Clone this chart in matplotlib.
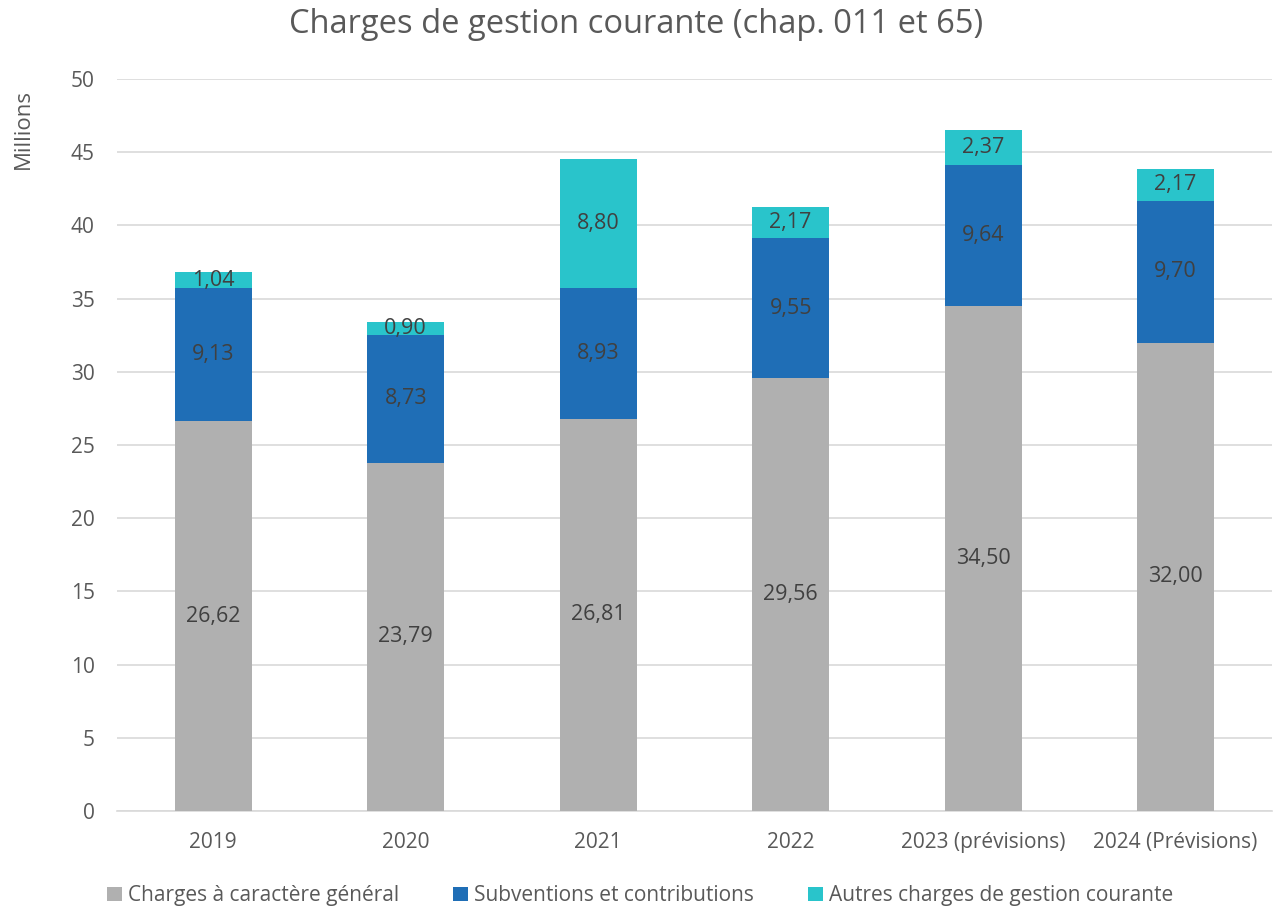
import numpy as np
import matplotlib.pyplot as plt

plt.rcParams['font.family'] = ['Open Sans', 'DejaVu Sans']

years = ['2019', '2020', '2021', '2022', '2023 (prévisions)', '2024 (Prévisions)']
charges_generales = [26.62, 23.79, 26.81, 29.56, 34.50, 32.00]
subventions = [9.13, 8.73, 8.93, 9.55, 9.64, 9.70]
autres = [1.04, 0.90, 8.80, 2.17, 2.37, 2.17]

series = [
    ('Charges à caractère général', charges_generales, '#B0B0B0'),
    ('Subventions et contributions', subventions, '#1F6EB6'),
    ('Autres charges de gestion courante', autres, '#29C4CB'),
]

txt = '#595959'

fig = plt.figure(figsize=(12.73, 9.07), dpi=100)
ax = fig.add_axes([0.0919, 0.1058, 0.9072, 0.8071])

x = np.arange(len(years))
bottom = np.zeros(len(years))
for name, vals, col in series:
    vals = np.array(vals)
    bars = ax.bar(x, vals, 0.4, bottom=bottom, color=col, label=name, zorder=3)
    for xi, b, v in zip(x, bottom, vals):
        ax.text(xi, b + v / 2, f'{v:.2f}'.replace('.', ','), ha='center', va='center',
                fontsize=15.5, color='#404040', zorder=4)
    bottom += vals

ax.set_xlim(-0.5, len(years) - 0.5)
ax.set_ylim(0, 50)
ax.set_yticks(range(0, 51, 5))
ax.set_xticks(x)
ax.set_xticklabels(years)
ax.grid(axis='y', color='#D9D9D9', linewidth=1.2, zorder=0)
for s in ['top', 'right', 'left']:
    ax.spines[s].set_visible(False)
ax.spines['bottom'].set_color('#D9D9D9')
ax.spines['bottom'].set_linewidth(1.2)
ax.tick_params(axis='both', length=0, labelsize=15, colors=txt)
ax.tick_params(axis='x', pad=15)
ax.tick_params(axis='y', pad=16)
ax.set_ylabel('Millions', fontsize=16, color=txt)
ax.yaxis.set_label_coords(-0.072, 0.932)

fig.suptitle('Charges de gestion courante (chap. 011 et 65)', fontsize=23.5, color=txt, y=0.991)

fig.legend(loc='lower center', ncol=3, frameon=False, fontsize=15, labelcolor=txt,
           handlelength=0.7, handleheight=0.7, handletextpad=0.3, columnspacing=2.6,
           bbox_to_anchor=(0.503, -0.02))

fig.savefig('out.png', dpi=100)
